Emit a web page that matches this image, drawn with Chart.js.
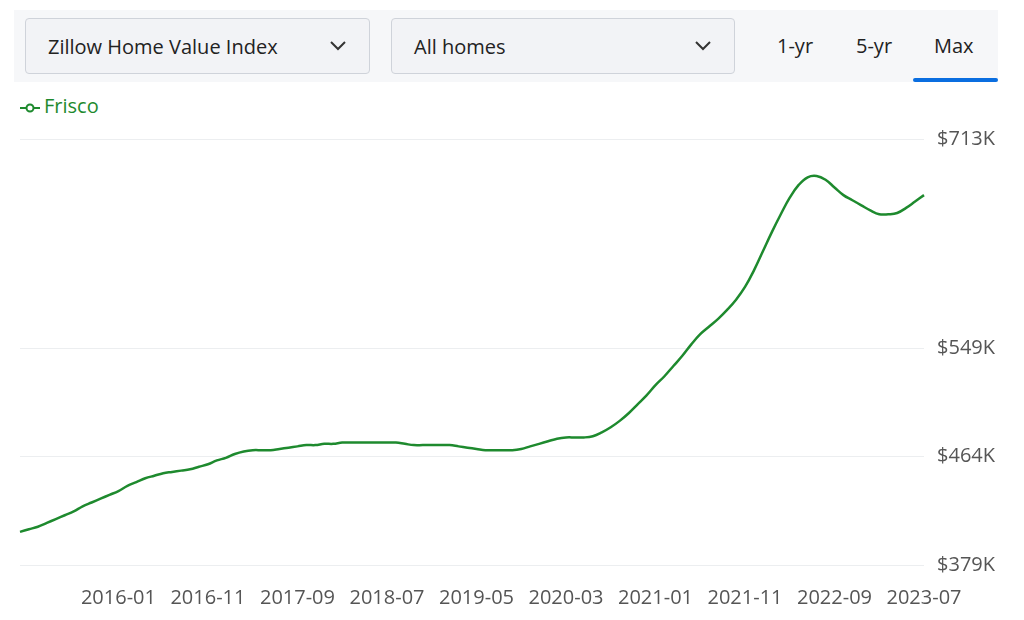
<!DOCTYPE html>
<html><head><meta charset="utf-8">
<script src="https://cdn.jsdelivr.net/npm/chart.js@4/dist/chart.umd.min.js"></script>
<style>
body{margin:0;background:#fff;font-family:"Open Sans",sans-serif;width:1024px;height:620px;overflow:hidden;position:relative}
.bar{position:absolute;left:14px;top:10px;width:984px;height:72px;background:#f6f7f9}
.dd{position:absolute;top:8px;height:56px;border:1px solid #cfd3da;border-radius:4px;background:#f2f3f6;font-size:20px;color:#222;line-height:56px;padding-left:22px;box-sizing:border-box}
.dd svg{position:absolute;right:22px;top:21px}
.tab{position:absolute;top:8px;height:56px;line-height:56px;font-size:20px;color:#222}
.legend{position:absolute;left:20px;top:92px;font-size:20px;color:#1e8a2e}
#wrap{position:absolute;left:0;top:114px;width:1024px;height:509px}
</style></head><body>
<div class="bar">
 <div class="dd" style="left:11px;width:345px">Zillow Home Value Index<svg width="18" height="12"><polyline points="2,2 9,9 16,2" fill="none" stroke="#333" stroke-width="2"/></svg></div>
 <div class="dd" style="left:377px;width:344px">All homes<svg width="18" height="12"><polyline points="2,2 9,9 16,2" fill="none" stroke="#333" stroke-width="2"/></svg></div>
 <div class="tab" style="left:763px">1-yr</div>
 <div class="tab" style="left:842px">5-yr</div>
 <div class="tab" style="left:920px">Max</div>
 <div style="position:absolute;left:899px;top:68px;width:85px;height:4px;background:#0a6ee0;border-radius:2px"></div>
</div>
<div class="legend"><svg width="20" height="12" style="vertical-align:middle;margin-right:4px"><line x1="0" y1="6" x2="20" y2="6" stroke="#1e8a2e" stroke-width="2"/><circle cx="10" cy="6" r="3.5" fill="#fff" stroke="#1e8a2e" stroke-width="2"/></svg>Frisco</div>
<div id="wrap"><canvas id="c"></canvas></div>
<script>
const startYear=2015, startMonth=2;
const values=[405,407,409,412,415,418,421,425,428,431,434,437,441,444,447,449,451,452,453,454,456,
458,461,463,466,468,469,469,469,470,471,472,473,473,474,474,475,475,475,475,475,
475,475,474,473,473,473,473,473,472,471,470,469,469,469,469,470,472,474,476,478,
479,479,479,480,483,487,492,498,505,512,520,527,535,543,552,560,566,572,579,587,
597,610,625,640,654,667,677,683,684,681,675,669,665,661,657,654,654,655,659,664,669];
const months=[];
for(let i=0;i<values.length;i++){const m=startMonth-1+i;months.push((startYear+Math.floor(m/12))+"-"+String(m%12+1).padStart(2,"0"));}
const yTicks=[379,464,549,713];
new Chart(document.getElementById('c'),{type:'line',
data:{labels:months,datasets:[{label:'Frisco',data:values,borderColor:'#1e8a2e',borderWidth:2.5,pointRadius:0,tension:0.4,fill:false}]},
options:{responsive:true,maintainAspectRatio:false,animation:false,
layout:{padding:{left:20,right:16,top:4,bottom:0}},
plugins:{legend:{display:false},tooltip:{enabled:false}},
scales:{
x:{grid:{display:false},border:{display:false},ticks:{autoSkip:false,maxRotation:0,padding:13,color:'#555',font:{family:'Open Sans',size:20},
 callback:(v,i)=>(i>1&&(i-1)%10===0)?months[i]:null}},
y:{position:'right',min:379,max:713,afterBuildTicks:a=>{a.ticks=yTicks.map(v=>({value:v}));},
 grid:{color:'#eceef0',drawTicks:false},border:{display:false},
 ticks:{padding:13,color:'#555',font:{family:'Open Sans',size:20},callback:v=>'$'+v+'K'}}
}}});
</script></body></html>
